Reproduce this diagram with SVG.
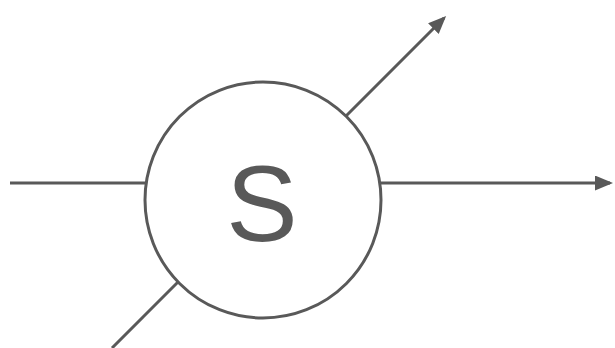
<svg xmlns="http://www.w3.org/2000/svg" width="615" height="348" viewBox="0 0 615 348">
<style>
.ln{stroke:#595959;stroke-width:3;fill:none}
.t{font-family:"Liberation Sans",Arial,sans-serif;fill:#595959}
</style>
<defs>
<marker id="ah" markerWidth="6" markerHeight="5" refX="5" refY="2.5" orient="auto" markerUnits="strokeWidth">
<path d="M0,0 L6,2.5 L0,5 Z" fill="#595959"/>
</marker>
</defs>
<rect width="615" height="348" fill="#fff"/>
<g id="connectors">
<line class="ln" x1="10" y1="183" x2="145" y2="183"/>
<line class="ln" x1="381" y1="183" x2="610" y2="183" marker-end="url(#ah)"/>
<line class="ln" x1="346" y1="116" x2="444" y2="18" marker-end="url(#ah)"/>
<line class="ln" x1="178" y1="282" x2="112" y2="348"/>
</g>
<g id="node-s">
<circle class="ln" cx="263" cy="200" r="118"/>
<text class="t" x="262" y="241" font-size="107" text-anchor="middle">S</text>
</g>
</svg>
